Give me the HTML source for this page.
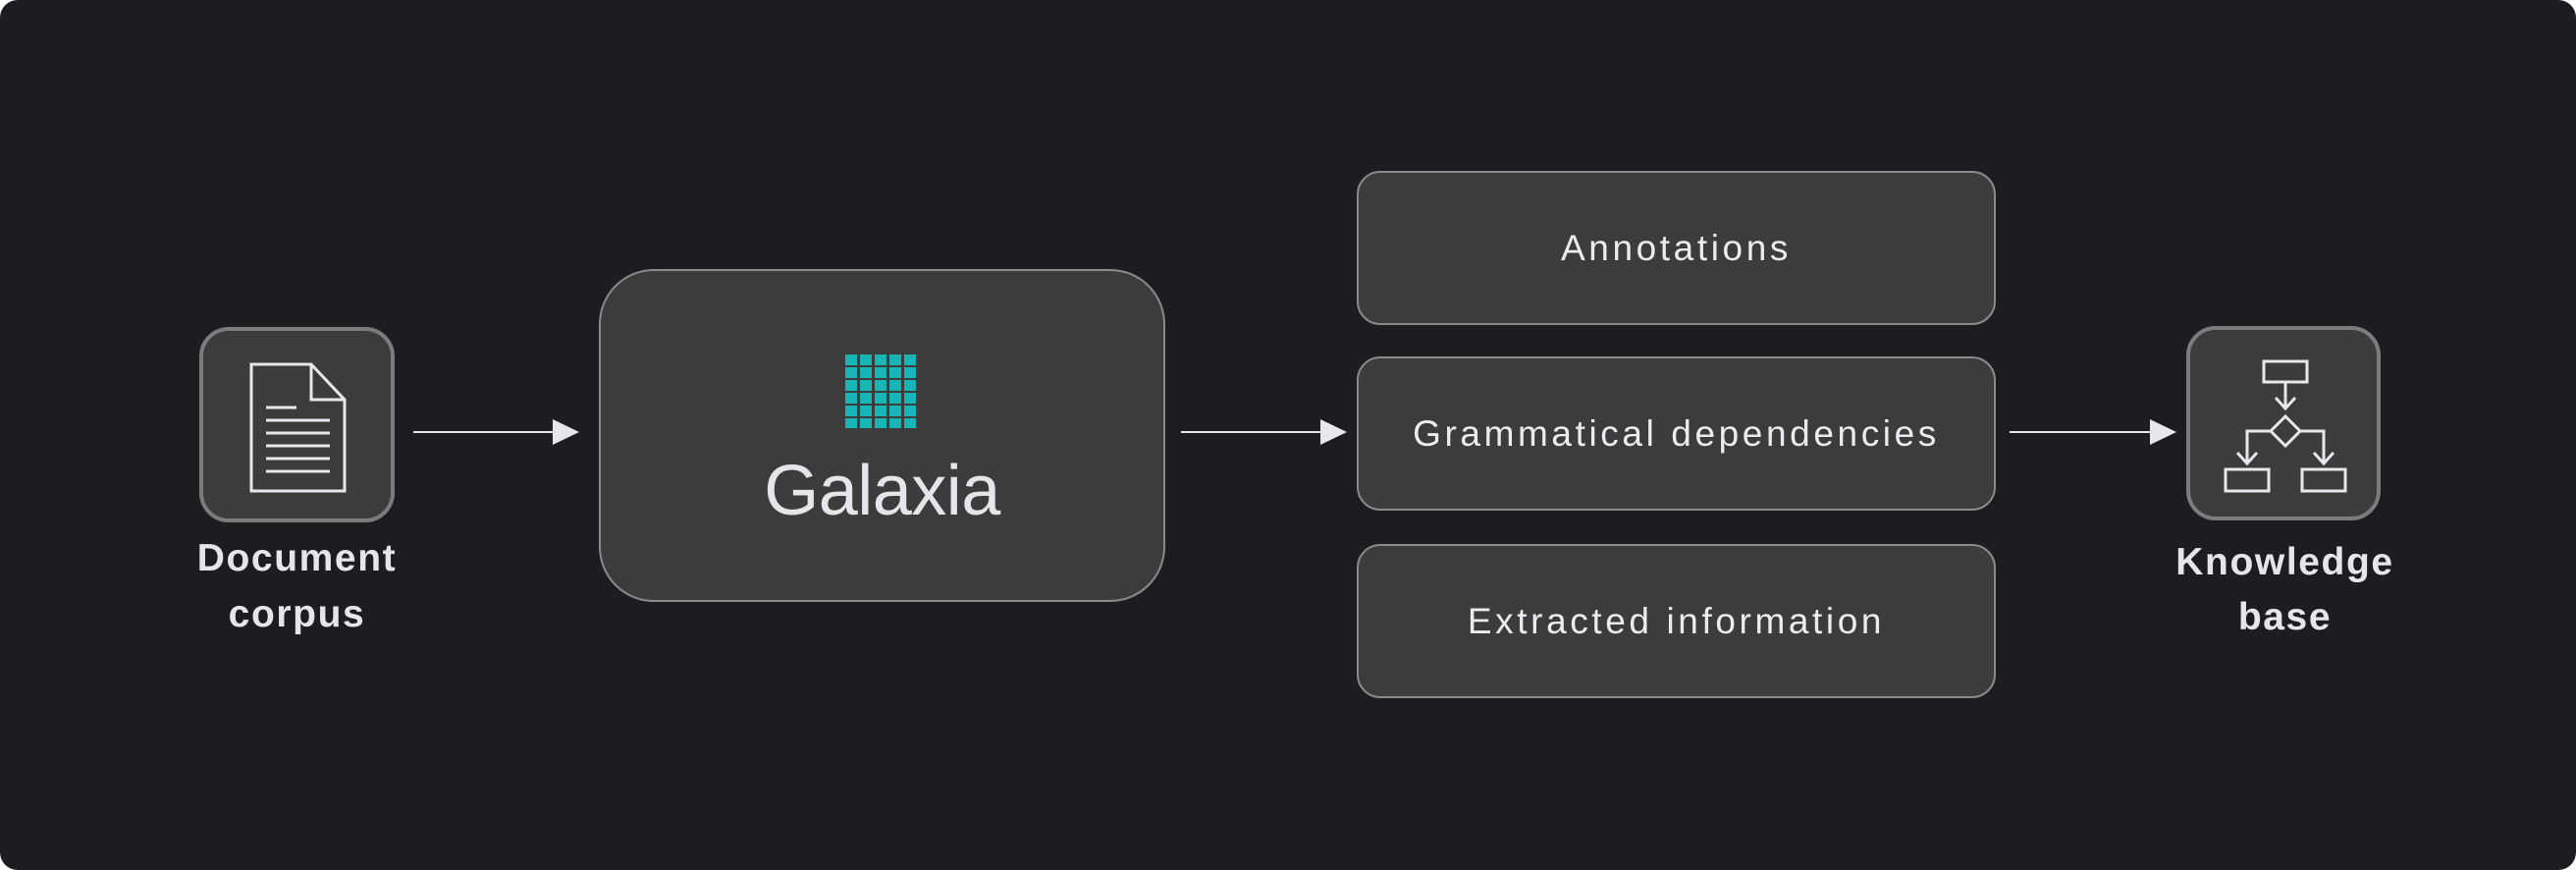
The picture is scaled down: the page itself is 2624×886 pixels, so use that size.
<!DOCTYPE html>
<html><head><meta charset="utf-8"><style>
html,body{margin:0;padding:0;background:#fff}
body{width:2624px;height:886px;overflow:hidden}
.bg{position:absolute;left:0;top:0;width:2624px;height:886px;background:#1c1d21;border-radius:18px}
.box{position:absolute;background:#3c3c3c;border:2px solid #8a8a8a;box-sizing:border-box}
.t{position:absolute;color:#e6e6ea;font-family:"Liberation Sans",sans-serif;text-align:center}
.r{display:flex;align-items:center;justify-content:center;font-size:37px;letter-spacing:3.6px;color:#ececf0;font-family:"Liberation Sans",sans-serif}
</style></head><body>
<div class="bg"></div>
<div class="box" style="left:203px;top:333px;width:199px;height:199px;border-radius:30px;border:4px solid #7c7c7c"></div>
<div class="box" style="left:2227px;top:332px;width:198px;height:198px;border-radius:30px;border:4px solid #7c7c7c"></div>
<div class="box" style="left:610px;top:274px;width:577px;height:339px;border-radius:56px"></div>
<div class="box r" style="left:1382px;top:174px;width:651px;height:157px;border-radius:24px">Annotations</div>
<div class="box r" style="left:1382px;top:363px;width:651px;height:157px;border-radius:24px">Grammatical dependencies</div>
<div class="box r" style="left:1382px;top:554px;width:651px;height:157px;border-radius:24px">Extracted information</div>
<div class="t" style="left:100px;top:540px;width:405px;font-size:39px;font-weight:bold;letter-spacing:1.6px;line-height:57px">Document<br>corpus</div>
<div class="t" style="left:2125px;top:545px;width:405px;font-size:39px;font-weight:bold;letter-spacing:1.6px;line-height:56px">Knowledge<br>base</div>
<div class="t" style="left:610px;top:460px;width:577px;font-size:72px;line-height:80px;letter-spacing:-0.5px">Galaxia</div>
<svg width="2624" height="886" style="position:absolute;left:0;top:0" fill="none">
<g stroke="#e8e8ec" stroke-width="3">
<path d="M256 371 H317 L351 407 V500 H256 Z"/><path d="M317 371 V407 H351"/>
<path d="M271 415H302 M271 428H336 M271 441H336 M271 454H336 M271 467H336 M271 480H336"/>
</g>
<g stroke="#e8e8ec" stroke-width="2">
<path d="M421 440H566"/><path d="M1203 440H1348"/><path d="M2047 440H2195"/>
</g>
<g fill="#e8e8ec">
<path d="M563 427L590 440L563 453Z"/><path d="M1345 427L1372 440L1345 453Z"/><path d="M2190 427L2217 440L2190 453Z"/>
</g>
<g stroke="#e8e8ec" stroke-width="3">
<rect x="2306" y="368" width="44" height="21"/>
<path d="M2328 389V416 M2318 405L2328 416L2338 405"/>
<path d="M2328 424L2343 439L2328 454L2313 439Z"/>
<path d="M2313 439H2289V472 M2279 461L2289 472L2299 461"/>
<path d="M2343 439H2367V472 M2357 461L2367 472L2377 461"/>
<rect x="2267" y="478" width="44" height="22"/><rect x="2345" y="478" width="44" height="22"/>
</g>
<g fill="#17b5b5">
<rect x="861" y="361" width="12" height="11"/><rect x="876" y="361" width="12" height="11"/><rect x="891" y="361" width="12" height="11"/><rect x="906" y="361" width="12" height="11"/><rect x="921" y="361" width="12" height="11"/>
<rect x="861" y="374" width="12" height="11"/><rect x="876" y="374" width="12" height="11"/><rect x="891" y="374" width="12" height="11"/><rect x="906" y="374" width="12" height="11"/><rect x="921" y="374" width="12" height="11"/>
<rect x="861" y="387" width="12" height="11"/><rect x="876" y="387" width="12" height="11"/><rect x="891" y="387" width="12" height="11"/><rect x="906" y="387" width="12" height="11"/><rect x="921" y="387" width="12" height="11"/>
<rect x="861" y="400" width="12" height="11"/><rect x="876" y="400" width="12" height="11"/><rect x="891" y="400" width="12" height="11"/><rect x="906" y="400" width="12" height="11"/><rect x="921" y="400" width="12" height="11"/>
<rect x="861" y="413" width="12" height="11"/><rect x="876" y="413" width="12" height="11"/><rect x="891" y="413" width="12" height="11"/><rect x="906" y="413" width="12" height="11"/><rect x="921" y="413" width="12" height="11"/>
<rect x="861" y="426" width="12" height="10"/><rect x="876" y="426" width="12" height="10"/><rect x="891" y="426" width="12" height="10"/><rect x="906" y="426" width="12" height="10"/><rect x="921" y="426" width="12" height="10"/>
</g>
</svg>
</body></html>
